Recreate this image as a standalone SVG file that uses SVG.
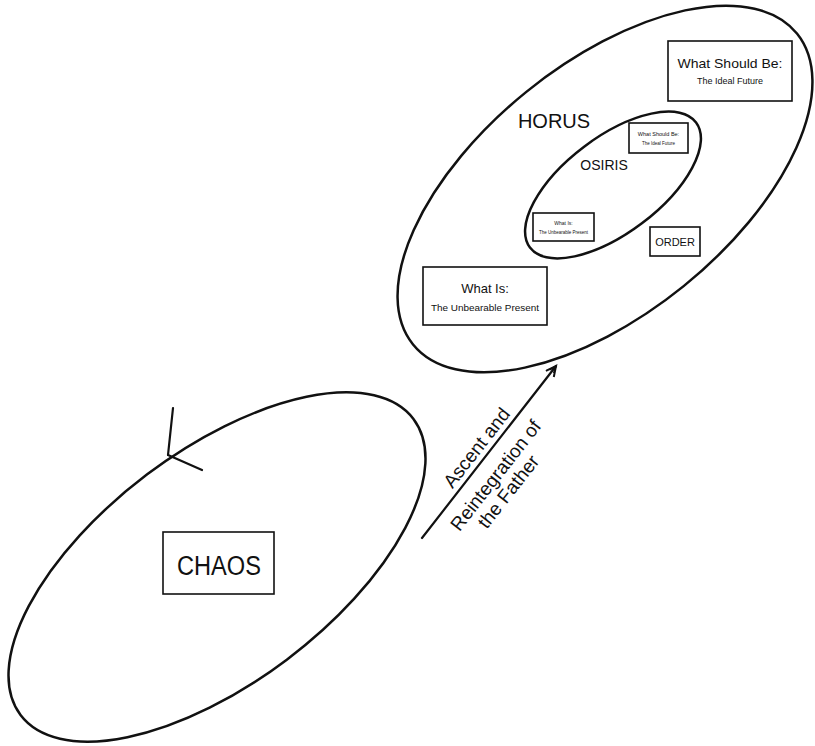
<svg xmlns="http://www.w3.org/2000/svg" width="815" height="746" viewBox="0 0 815 746">
<style>
.ell{fill:none;stroke:#111;stroke-width:2.5}
.box{fill:#fff;stroke:#111;stroke-width:1.6}
.t{font-family:"Liberation Sans",Arial,sans-serif;fill:#111;text-anchor:middle}
.ln{stroke:#111;stroke-width:2.2;fill:none;stroke-linecap:round}
</style>
<defs>
<marker id="ah" markerWidth="14" markerHeight="14" refX="11" refY="6" orient="auto" markerUnits="userSpaceOnUse">
<path d="M1,1 L11,6 L1,11" fill="none" stroke="#111" stroke-width="2"/>
<path d="M4,3.5 L11,6 L4,8.5" fill="none" stroke="#111" stroke-width="1.5"/>
</marker>
</defs>
<rect width="815" height="746" fill="#fff"/>
<g id="chaos-region">
<ellipse class="ell" cx="217" cy="567" rx="246" ry="116" transform="rotate(-37 217 567)"/>
</g>
<g id="horus-region">
<ellipse class="ell" cx="605" cy="189" rx="247" ry="125" transform="rotate(-39 605 189)"/>
<text class="t" x="554" y="128" font-size="20">HORUS</text>
</g>
<g id="osiris-region">
<ellipse class="ell" cx="613" cy="185" rx="104" ry="48" transform="rotate(-37 613 185)" stroke-width="2"/>
<text class="t" x="604" y="170" font-size="14">OSIRIS</text>
</g>
<g id="chaos">
<rect class="box" x="163" y="532" width="111" height="62"/>
<text class="t" x="219" y="575" font-size="27" textLength="84" lengthAdjust="spacingAndGlyphs">CHAOS</text>
</g>
<g id="what-should-be">
<rect class="box" x="668" y="41" width="124" height="60"/>
<text class="t" x="730" y="68" font-size="13" textLength="105" lengthAdjust="spacingAndGlyphs">What Should Be:</text>
<text class="t" x="730" y="84" font-size="9">The Ideal Future</text>
</g>
<g id="what-is">
<rect class="box" x="423" y="267" width="124" height="58"/>
<text class="t" x="485" y="293" font-size="13">What Is:</text>
<text class="t" x="485" y="311" font-size="9" textLength="108" lengthAdjust="spacingAndGlyphs">The Unbearable Present</text>
</g>
<g id="inner-should-be">
<rect class="box" x="629" y="123" width="59" height="30" stroke-width="1.3"/>
<text class="t" x="658.5" y="136" font-size="5.5">What Should Be:</text>
<text class="t" x="658.5" y="145" font-size="4.5">The Ideal Future</text>
</g>
<g id="inner-what-is">
<rect class="box" x="533" y="213" width="61" height="28" stroke-width="1.3"/>
<text class="t" x="563.5" y="225" font-size="5">What Is:</text>
<text class="t" x="563.5" y="234" font-size="4.5">The Unbearable Present</text>
</g>
<g id="order">
<rect class="box" x="650" y="227" width="50" height="29"/>
<text class="t" x="675" y="246" font-size="11">ORDER</text>
</g>
<g id="connectors">
<line class="ln" x1="173" y1="408" x2="168" y2="455"/>
<line class="ln" x1="168" y1="455" x2="202" y2="470"/>
<line class="ln" x1="422" y1="538" x2="556" y2="366" marker-end="url(#ah)"/>
<g transform="translate(489.5 451.5) rotate(-52)">
<text class="t" x="-5" y="-6" font-size="19">Ascent and</text>
<text class="t" x="-15" y="26" font-size="19">Reintegration of</text>
<text class="t" x="-20" y="46" font-size="19">the Father</text>
</g>
</g>
</svg>
